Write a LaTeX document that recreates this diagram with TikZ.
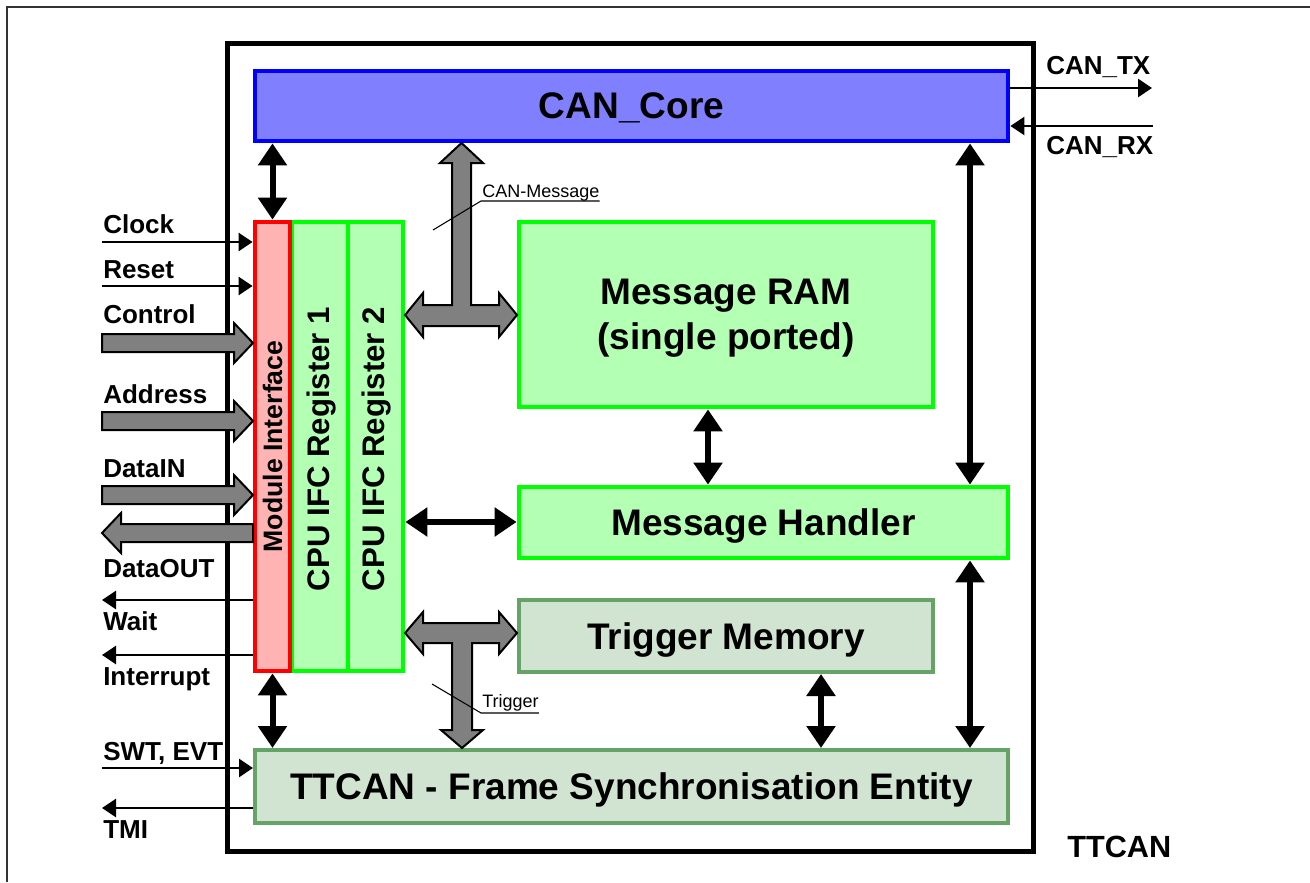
\documentclass[tikz,border=0pt]{standalone}
\usepackage{fontspec}
\setmainfont{Liberation Sans}
\usetikzlibrary{arrows.meta,calc}
\definecolor{corefill}{HTML}{8080FF}
\definecolor{coreline}{HTML}{0000FF}
\definecolor{modfill}{HTML}{FFB3B3}
\definecolor{modline}{HTML}{FF0000}
\definecolor{grfill}{HTML}{B3FFB3}
\definecolor{grline}{HTML}{00FF00}
\definecolor{dgfill}{HTML}{D1E3D1}
\definecolor{dgline}{HTML}{66A366}
\definecolor{busgray}{HTML}{808080}
\definecolor{outerline}{HTML}{333333}
\begin{document}
\begin{tikzpicture}[x=0.75pt,y=-0.75pt,
  box/.style={draw, line width=3.6pt, inner sep=0pt, align=center, text depth=0pt,
    font=\bfseries\fontsize{27.75}{33.75}\selectfont},
  corebox/.style={box, draw=coreline, fill=corefill},
  modbox/.style={box, draw=modline, fill=modfill},
  grbox/.style={box, draw=grline, fill=grfill},
  dgbox/.style={box, draw=dgline, fill=dgfill, line width=3pt},
  bigarrow/.style={line width=4.5pt, {Triangle[length=16.5pt,width=21pt]}-{Triangle[length=16.5pt,width=21pt]}},
  thinarrow/.style={line width=2pt, -{Triangle[length=10.5pt,width=13.5pt]}},
  bus/.style={fill=busgray, draw=black, line width=1.5pt, line join=miter},
  siglabel/.style={anchor=base west, inner sep=0pt, font=\bfseries\fontsize{19.5}{20}\selectfont},
  smalllabel/.style={anchor=base west, inner sep=0pt, font=\fontsize{13.5}{14}\selectfont},
  vtext/.style={rotate=90, inner sep=0pt, font=\bfseries\fontsize{23.4}{25}\selectfont},
  leader/.style={line width=0.8pt}
]
\useasboundingbox (0,0) rectangle (1310,882);
% outer thin frame (only top and left visible)
\draw[outerline, line width=1.6pt] (7,882) -- (7,7) -- (1310,7);
% TTCAN frame
\node[draw, line width=3.75pt, minimum width=604.5pt, minimum height=606pt, inner sep=0pt] (frame) at (630,447) {};
\node[anchor=base west, inner sep=0pt, font=\bfseries\fontsize{23}{24}\selectfont] (ttcanlbl) at (1067,857) {TTCAN};

% boxes
\node[corebox, minimum width=564.75pt, minimum height=52.5pt] (core) at (631.5,106) {CAN\_Core};
\node[grbox, minimum width=42pt, minimum height=336.75pt] (reg1) at (320,446.5) {};
\node[grbox, minimum width=41.25pt, minimum height=336.75pt] (reg2) at (375.5,446.5) {};
\node[modbox, minimum width=26.25pt, minimum height=336.75pt] (modif) at (272.5,446.5) {};
\node[vtext, font=\bfseries\fontsize{20}{22}\selectfont] (modtxt) at (272.5,446.5) {Module Interface};
\node[vtext] (reg1txt) at (321,449) {CPU IFC Register 1};
\node[vtext] (reg2txt) at (376,449) {CPU IFC Register 2};
\node[grbox, minimum width=310.5pt, minimum height=138.75pt] (ram) at (726,314.5) {Message RAM\\(single ported)};
\node[grbox, minimum width=366.75pt, minimum height=53.25pt] (mh) at (763.5,522.5) {Message Handler};
\node[dgbox, minimum width=310.5pt, minimum height=54pt] (tm) at (726,636) {Trigger Memory};
\node[dgbox, minimum width=564.75pt, minimum height=54.75pt] (fse) at (631.5,786.5) {TTCAN - Frame Synchronisation Entity};

% black double arrows
\draw[bigarrow] (core.south -| 272.5,0) -- (modif.north);
\draw[bigarrow] (modif.south) -- (fse.north -| modif.south);
\draw[bigarrow] (core.south -| 970,0) -- (mh.north -| 970,0);
\draw[bigarrow] (mh.south -| 970,0) -- (fse.north -| 970,0);
\draw[bigarrow] (ram.south -| 708,0) -- (mh.north -| 708,0);
\draw[bigarrow] (tm.south -| 821,0) -- (fse.north -| 821,0);
\draw[bigarrow] (reg2.east |- 0,522) -- (mh.west |- 0,522);

% CAN TX / RX
\coordinate (txend) at (1152,88);
\coordinate (rxstart) at (1153,126);
\draw[thinarrow] (core.east |- txend) -- (txend);
\draw[thinarrow] (rxstart) -- (core.east |- rxstart);
\node[siglabel] (txl) at (1046,74) {CAN\_TX};
\node[siglabel] (rxl) at (1046,154) {CAN\_RX};

% gray bus T arrows
\filldraw[bus] (461.5,143) -- (483,163) -- (471,163) -- (471,305) -- (499,305) -- (499,293) -- (517,315) -- (499,337) -- (499,326) -- (423,326) -- (423,337) -- (405,315) -- (423,293) -- (423,305) -- (452,305) -- (452,163) -- (440,163) -- cycle;
\filldraw[bus] (405,633) -- (423,612) -- (423,623) -- (499,623) -- (499,612) -- (517,633) -- (499,654) -- (499,643) -- (472,643) -- (472,730) -- (483,730) -- (462,748) -- (441,730) -- (452,730) -- (452,643) -- (423,643) -- (423,654) -- cycle;

% leader labels
\node[smalllabel] (cmsg) at (482,197) {CAN-Message};
\coordinate (cmsgend) at (433,230);
\draw[leader] (cmsg.base east |- 0,201) -- (481,201) -- (cmsgend);
\node[smalllabel] (trg) at (482,707) {Trigger};
\coordinate (trgend) at (432,684);
\draw[leader] (trg.base east |- 0,713) -- (481,713) -- (trgend);

% left side bus arrows
\newcommand\busright[3]{\filldraw[bus] (#1,#3-9) -- (#2-19,#3-9) -- (#2-19,#3-20) -- (#2,#3) -- (#2-19,#3+20) -- (#2-19,#3+9) -- (#1,#3+9) -- cycle;}
\newcommand\busleft[3]{\filldraw[bus] (#1,#3-9) -- (#2+19,#3-9) -- (#2+19,#3-20) -- (#2,#3) -- (#2+19,#3+20) -- (#2+19,#3+9) -- (#1,#3+9) -- cycle;}
\busright{102}{253}{343}
\busright{102}{253}{421}
\busright{102}{253}{495}
\busleft{253}{102}{533}

% thin signal arrows
\coordinate (clk) at (102,242);
\coordinate (rst) at (102,286);
\coordinate (wt) at (102,600);
\coordinate (irq) at (102,655);
\coordinate (swt) at (102,768);
\coordinate (tmi) at (102,808);
\draw[thinarrow] (clk) -- (clk -| modif.west);
\draw[thinarrow] (rst) -- (rst -| modif.west);
\draw[thinarrow] (wt -| modif.west) -- (wt);
\draw[thinarrow] (irq -| modif.west) -- (irq);
\draw[thinarrow] (swt) -- (swt -| fse.west);
\draw[thinarrow] (tmi -| fse.west) -- (tmi);

% signal labels
\node[siglabel] (l1) at (103,233) {Clock};
\node[siglabel] (l2) at (103,278) {Reset};
\node[siglabel] (l3) at (103,323) {Control};
\node[siglabel] (l4) at (103,403) {Address};
\node[siglabel] (l5) at (103,477) {DataIN};
\node[siglabel] (l6) at (103,577) {DataOUT};
\node[siglabel] (l7) at (103,630) {Wait};
\node[siglabel] (l8) at (103,685) {Interrupt};
\node[siglabel] (l9) at (103,760) {SWT, EVT};
\node[siglabel] (l10) at (103,838) {TMI};
\end{tikzpicture}
\end{document}
